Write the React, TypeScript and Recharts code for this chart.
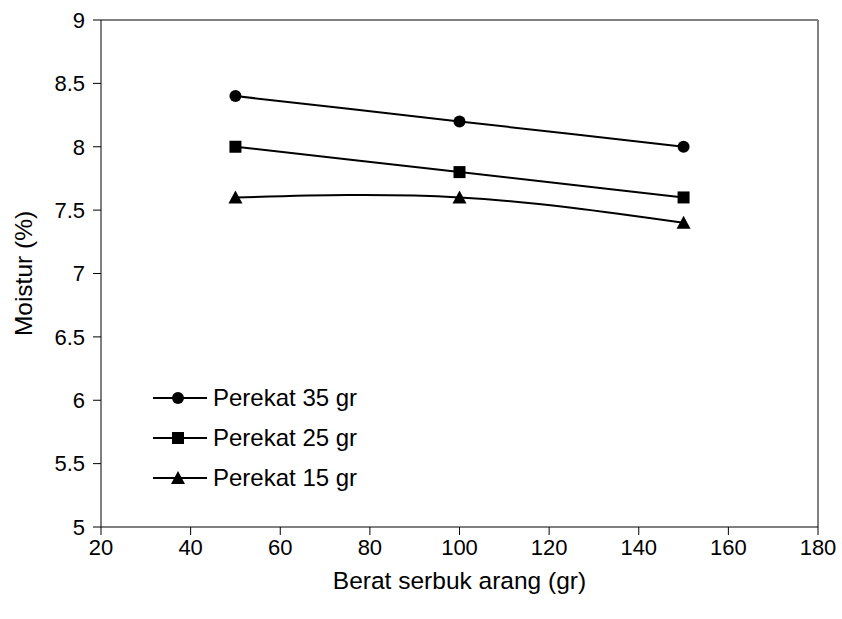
import React from 'react';
import {
  LineChart,
  Line,
  XAxis,
  YAxis,
  ReferenceLine
} from 'recharts';

// serbuk arang (gr) on the x axis
const beratSerbuk = [50, 100, 150];

// moisture (%) per binder weight
const perekat35 = [8.4, 8.2, 8.0];
const perekat25 = [8.0, 7.8, 7.6];
const perekat15 = [7.6, 7.6, 7.4];

const seriesNames = ['Perekat 35 gr', 'Perekat 25 gr', 'Perekat 15 gr'];

const xTicks = [20, 40, 60, 80, 100, 120, 140, 160, 180];
const yTicks = [5, 5.5, 6, 6.5, 7, 7.5, 8, 8.5, 9];

const FONT = '"Liberation Sans", Arial, sans-serif';

const rows = beratSerbuk.map((x, i) => ({
  x,
  p35: perekat35[i],
  p25: perekat25[i],
  p15: perekat15[i]
}));

type Shape = 'circle' | 'square' | 'triangle';
const shapes: Shape[] = ['circle', 'square', 'triangle'];
const keys = ['p35', 'p25', 'p15'];

const Marker = ({ cx, cy, shape }: { cx: number; cy: number; shape: Shape }) => {
  if (cx == null || cy == null) return null;
  if (shape === 'circle') return <circle cx={cx} cy={cy} r={6} fill="#000" />;
  if (shape === 'square') return <rect x={cx - 6} y={cy - 6} width={12} height={12} fill="#000" />;
  return <polygon points={`${cx},${cy - 7} ${cx + 7},${cy + 6} ${cx - 7},${cy + 6}`} fill="#000" />;
};

const dotFor = (shape: Shape) => (props: any) => (
  <Marker key={`${shape}-${props.index}`} cx={props.cx} cy={props.cy} shape={shape} />
);

// legend sits inside the plot, lower left
const LegendBox = () => (
  <div style={{ position: 'absolute', left: 150, top: 378, fontFamily: FONT }}>
    {seriesNames.map((name, i) => (
      <div key={name} style={{ display: 'flex', alignItems: 'center', height: 40 }}>
        <svg width={60} height={20}>
          <line x1={3} y1={10} x2={57} y2={10} stroke="#000" strokeWidth={2} />
          <Marker cx={28} cy={10} shape={shapes[i]} />
        </svg>
        <span style={{ fontSize: 24, color: '#000', marginLeft: 3 }}>{name}</span>
      </div>
    ))}
  </div>
);

const YLabel = ({ viewBox }: any) => {
  const cy = viewBox.y + viewBox.height / 2;
  return (
    <text
      x={23}
      y={cy}
      transform={`rotate(-90, 23, ${cy})`}
      textAnchor="middle"
      dominantBaseline="central"
      fontSize={24.5}
      fontFamily={FONT}
      fill="#000"
    >
      Moistur (%)
    </text>
  );
};

const XLabel = ({ viewBox }: any) => (
  <text
    x={viewBox.x + viewBox.width / 2}
    y={580}
    textAnchor="middle"
    dominantBaseline="central"
    fontSize={24.5}
    fontFamily={FONT}
    fill="#000"
  >
    Berat serbuk arang (gr)
  </text>
);

const App: React.FC = () => {
  const tick = { fill: '#000', fontSize: 22, fontFamily: FONT };
  return (
    <div style={{ position: 'absolute', left: 0, top: 0, width: 842, height: 619, background: '#fff' }}>
      <LineChart width={842} height={619} data={rows} margin={{ top: 20, right: 24, bottom: 0, left: 0 }}>
        <XAxis
          dataKey="x"
          type="number"
          domain={[20, 180]}
          ticks={xTicks}
          tick={tick}
          tickSize={8}
          tickMargin={4}
          height={92}
          stroke="#000"
          label={<XLabel />}
          interval={0}
        />
        <YAxis
          type="number"
          domain={[5, 9]}
          ticks={yTicks}
          tick={tick}
          tickSize={8}
          tickMargin={8}
          width={101}
          stroke="#000"
          label={<YLabel />}
          interval={0}
        />
        <ReferenceLine y={9} stroke="#808080" strokeWidth={2} />
        <ReferenceLine x={180} stroke="#808080" strokeWidth={2} />
        {keys.map((k, i) => (
          <Line
            key={k}
            type="natural"
            dataKey={k}
            name={seriesNames[i]}
            stroke="#000"
            strokeWidth={2}
            dot={dotFor(shapes[i])}
            activeDot={false}
            isAnimationActive={false}
          />
        ))}
      </LineChart>
      <LegendBox />
    </div>
  );
};

export default App;
